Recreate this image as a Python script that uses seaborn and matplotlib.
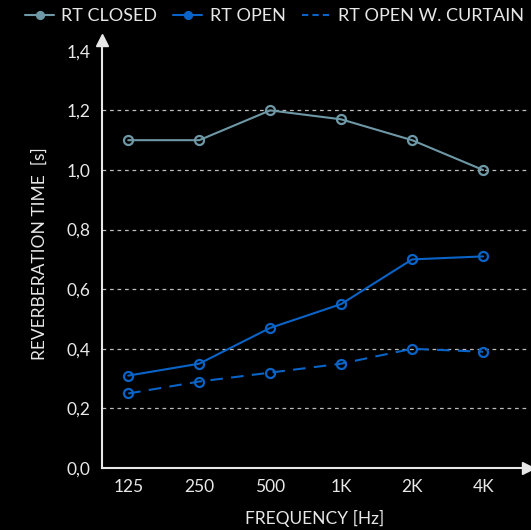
import matplotlib
matplotlib.use("Agg")
import matplotlib.pyplot as plt
import seaborn as sns
import pandas as pd

freqs = ["125", "250", "500", "1K", "2K", "4K"]
rt_closed = [1.10, 1.10, 1.20, 1.17, 1.10, 1.00]
rt_open = [0.31, 0.35, 0.47, 0.55, 0.70, 0.71]
rt_curtain = [0.25, 0.29, 0.32, 0.35, 0.40, 0.39]
yticks = [0.0, 0.2, 0.4, 0.6, 0.8, 1.0, 1.2, 1.4]

sns.set_style("dark")
plt.rcParams["font.family"] = ["Lato", "DejaVu Sans"]

fg = "#e8e8e8"
c_closed = "#6e98a6"
c_open = "#0a64c8"

fig = plt.figure(figsize=(5.31, 5.30), dpi=100, facecolor="black")
ax = fig.add_axes([0.192, 0.117, 0.802, 0.808])
ax.set_facecolor("black")

xs = list(range(len(freqs)))
series = [
    ("RT CLOSED", rt_closed, c_closed, "-"),
    ("RT OPEN", rt_open, c_open, "-"),
    ("RT OPEN W. CURTAIN", rt_curtain, c_open, (0, (6, 4))),
]
for name, vals, col, ls in series:
    df = pd.DataFrame({"x": xs, "y": vals})
    sns.lineplot(data=df, x="x", y="y", ax=ax, color=col, linewidth=1.5,
                 linestyle=ls, marker="o", markersize=6.5,
                 markerfacecolor="none", markeredgecolor=col,
                 markeredgewidth=1.6, label=name)

ax.set_xlim(-0.37, 5.63)
ax.set_ylim(0, 1.437)
ax.set_xticks(xs)
ax.set_xticklabels(freqs)
ax.set_yticks(yticks)
ax.set_yticklabels([f"{v:.1f}".replace(".", ",") for v in yticks])
for y in yticks[1:-1]:
    ax.axhline(y, color="#bbbbbb", linestyle=(0, (3, 3)), linewidth=0.9, zorder=0)
ax.grid(False)
for s in ["top", "right"]:
    ax.spines[s].set_visible(False)
for s in ["left", "bottom"]:
    ax.spines[s].set_color(fg)
    ax.spines[s].set_linewidth(1.5)
ax.plot(1, 0, ">", color=fg, markersize=8, transform=ax.transAxes, clip_on=False)
ax.plot(0, 1, "^", color=fg, markersize=8, transform=ax.transAxes, clip_on=False)

ax.tick_params(axis="both", colors=fg, labelsize=12.5, length=0, pad=8)
ax.set_xlabel("FREQUENCY [Hz]", color=fg, fontsize=12.5, labelpad=11)
ax.set_ylabel("REVERBERATION TIME  [s]", color=fg, fontsize=12.5, labelpad=14)

leg = ax.legend(loc="upper center", bbox_to_anchor=(0.405, 1.112), ncol=3,
                frameon=False, fontsize=13, handlelength=1.6, columnspacing=0.9,
                handletextpad=0.4)
for t in leg.get_texts():
    t.set_color(fg)
handles = leg.legend_handles
for h in handles[:2]:
    h.set_markersize(5)
    h.set_markerfacecolor(h.get_color())
handles[2].set_marker("")
handles[2].set_linestyle((0, (3, 2)))

fig.savefig("out.png", dpi=100, facecolor="black")
